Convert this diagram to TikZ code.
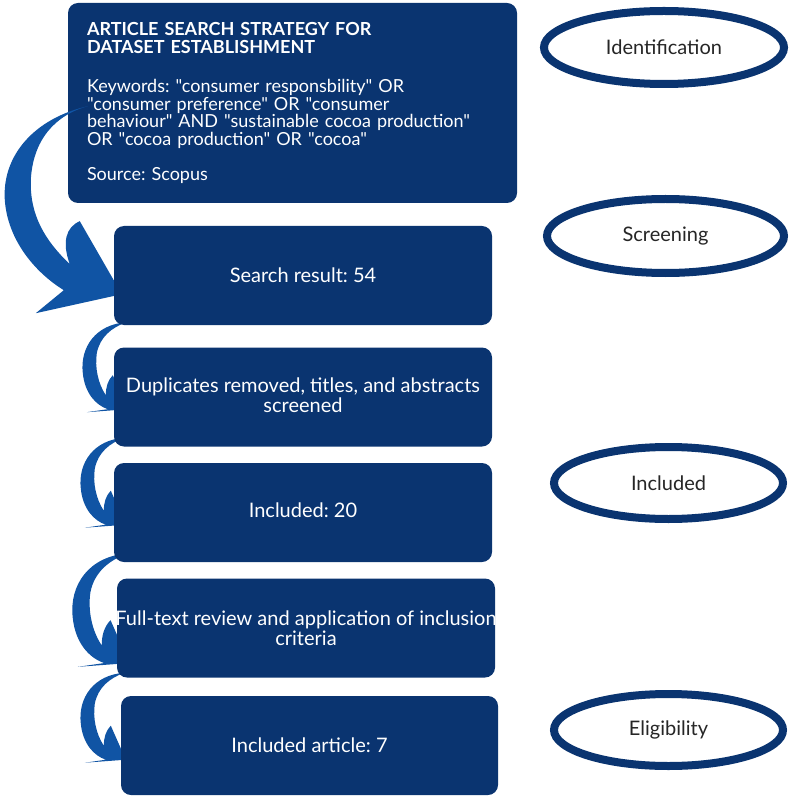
\documentclass[tikz,border=0pt]{standalone}
\usepackage{fontspec}
\setmainfont{Lato}[Ligatures=TeXOff]
\usetikzlibrary{shapes.geometric}
\pgfdeclarelayer{back}
\pgfsetlayers{back,main}
\definecolor{navy}{RGB}{10,52,112}
\definecolor{swoosh}{RGB}{16,84,164}
\tikzset{
  box/.style={fill=navy,rounded corners=10pt,text=white,minimum width=378pt,minimum height=99pt,align=center,inner sep=0pt,font=\fontsize{20}{20}\selectfont},
  stage/.style={ellipse,draw=navy,line width=8pt,fill=white,text=black!85,inner sep=0pt,font=\fontsize{20}{20}\selectfont}
}
\frenchspacing
\begin{document}
\begin{tikzpicture}[x=1pt,y=-1pt]
\useasboundingbox (0,0) rectangle (790,799);

\node[box,minimum width=449pt,minimum height=200pt,text width=411pt,align=left,font=\fontsize{18}{17.5}\selectfont] (search) at (292.5,103) {\textbf{ARTICLE SEARCH STRATEGY FOR}\\\textbf{DATASET ESTABLISHMENT}\\[22pt]
Keywords: "consumer responsbility" OR\\"consumer preference" OR "consumer\\behaviour" AND "sustainable cocoa production"\\OR "cocoa production" OR "cocoa"\\[17.5pt]
Source: Scopus};

% big swoosh from the search box down to the result box
\begin{scope}[shift={(search.south west)}]
\fill[swoosh] (20,-97) .. controls (-33,-85) and (-66,-48) .. (-63,-3) .. controls (-60,37) and (-33,69) .. (-4,87) -- (-32,110) -- (54,91) -- (12,18) .. controls (-2,24) and (-6,39) .. (2,61) .. controls (-23,37) and (-38,12) .. (-37,-23) .. controls (-35,-63) and (-13,-88) .. (20,-97) -- cycle;
\end{scope}

\node[box] (b2) at (303,275.5) {Search result: 54};
\node[box] (b3) at (303,397) {\raisebox{4pt}{\makebox[378pt]{Duplicates removed, titles, and abstracts}}\\\raisebox{4pt}{screened}};
\node[box] (b4) at (303,512.5) {\raisebox{4pt}{Included: 20}};
\node[box] (b5) at (306,628) {\makebox[378pt]{Full-text review and application of inclusion}\\criteria};
\node[box,minimum width=377pt] (b6) at (309.5,745.5) {Included article: 7};

\begin{pgfonlayer}{back}
\foreach \i/\dx/\dy/\s in {2/0/0/1,3/-2/-6/1,4/-2/-5/1.26,5/-5/-2/1}{
  \begin{scope}[shift={(b\i.south west)},xshift=\dx,yshift=-\dy,scale=\s]
  \fill[swoosh] (13,-3) .. controls (-18,-1) and (-34,22) .. (-31,48) .. controls (-29,68) and (-18,80) .. (-6,84) -- (-27,87) -- (14,84) -- (-1,50) .. controls (-6,55) and (-8,62) .. (-8,70) .. controls (-16,58) and (-19,42) .. (-17,28) .. controls (-14,12) and (-2,2) .. (13,-3) -- cycle;
  \end{scope}
}
\end{pgfonlayer}

\node[stage,minimum width=240pt,minimum height=73pt] (ident) at (664,47.5) {Identification};
\node[stage,minimum width=237pt,minimum height=74pt] (screen) at (665.5,236) {Screening};
\node[stage,minimum width=229pt,minimum height=72pt] (incl) at (668.5,483) {Included};
\node[stage,minimum width=229pt,minimum height=72pt] (elig) at (668.5,730) {Eligibility};

\end{tikzpicture}
\end{document}
